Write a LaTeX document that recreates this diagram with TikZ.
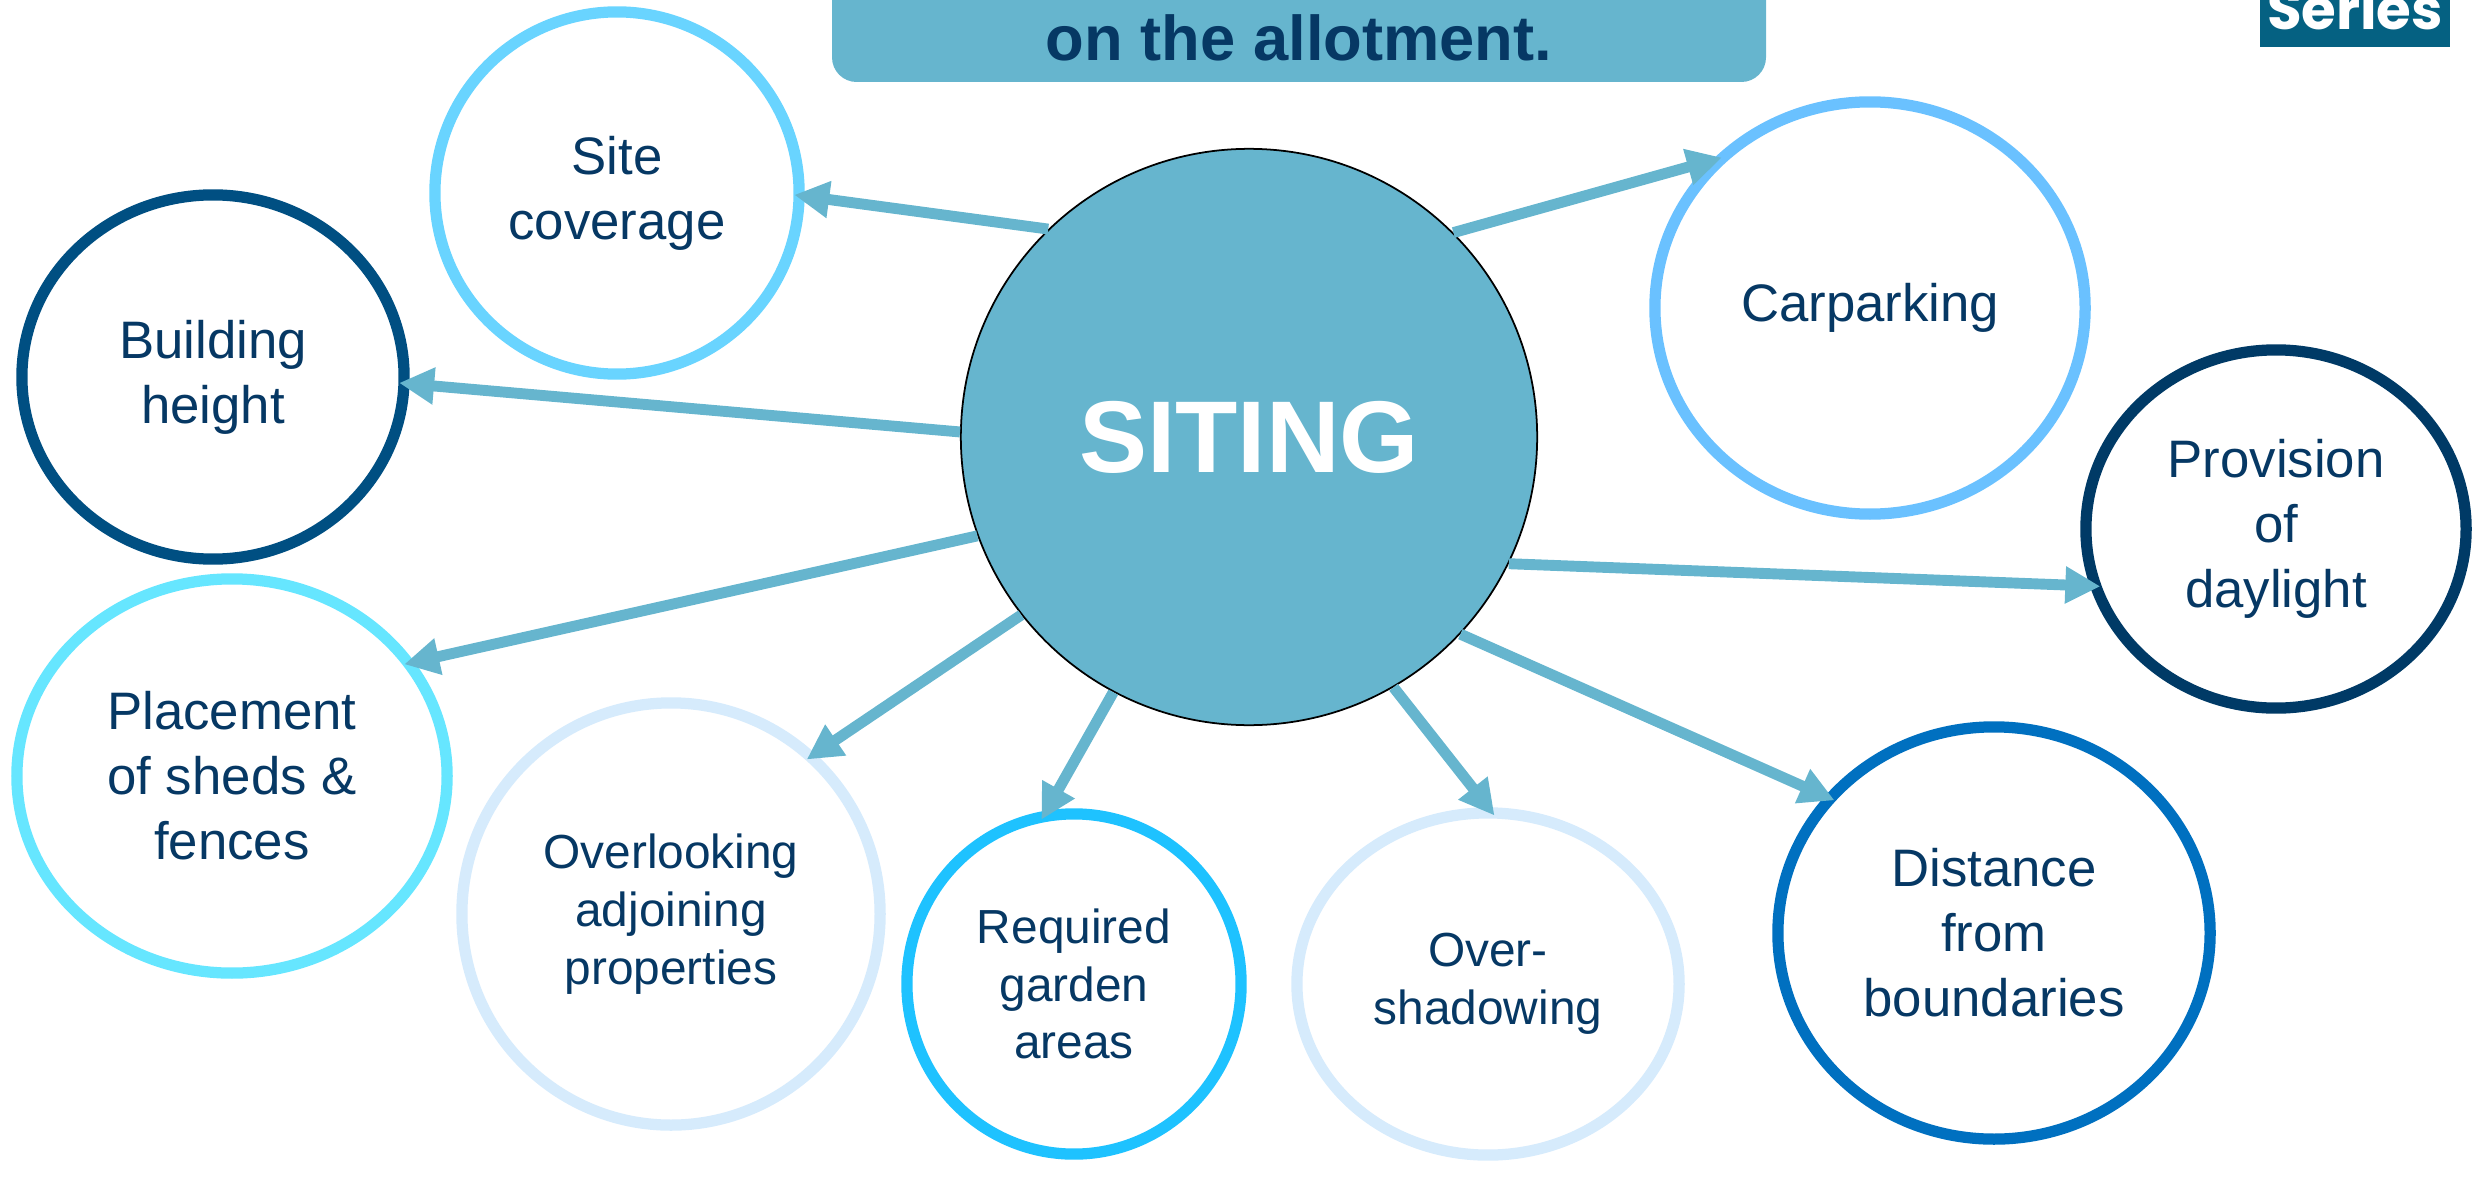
\documentclass[tikz,border=0pt]{standalone}
\usepackage{fontspec}
\setmainfont{Liberation Sans}
\newfontfamily\seriesfont{Poppins}
\usetikzlibrary{arrows.meta,shapes.geometric}
\definecolor{linkblue}{RGB}{102,181,206}
\definecolor{navytext}{RGB}{6,56,100}
\definecolor{seriesblue}{RGB}{5,97,130}
\definecolor{sitecol}{RGB}{105,212,255}
\definecolor{heightcol}{RGB}{0,79,130}
\definecolor{shedcol}{RGB}{102,230,255}
\definecolor{palecol}{RGB}{214,235,252}
\definecolor{gardencol}{RGB}{30,194,255}
\definecolor{distcol}{RGB}{0,112,192}
\definecolor{daycol}{RGB}{0,58,102}
\definecolor{carcol}{RGB}{106,193,255}
\begin{document}
\begin{tikzpicture}[x=0.01cm,y=-0.01cm,
		bubble/.style={ellipse,line width=3.2pt,fill=white,text=navytext,align=center,inner sep=0pt,font=\fontsize{15}{18.5}\selectfont},
		small/.style={font=\fontsize{13.6}{16.4}\selectfont},
		link/.style={draw=linkblue,line width=3.1pt,shorten >=-3pt,-{Triangle[length=3.5mm,width=3.5mm]}}]
	\useasboundingbox (0,0) rectangle (2476,1179);
	\clip (0,0) rectangle (2476,1179);
	\fill[linkblue,rounded corners=7pt] (832,-60) rectangle (1766,82);
	\node[anchor=base,text=navytext,font=\bfseries\fontsize{18}{20}\selectfont] (title) at (1299,61) {on the allotment.};
	\fill[seriesblue] (2260,-10) rectangle (2450,47);
	\node[anchor=base,text=white,font=\seriesfont\bfseries\fontsize{16}{18}\selectfont] (series) at (2355,30) {Series};
	\node[circle,draw=black,line width=0.5pt,fill=linkblue,minimum size=5.76cm,text=white,font=\bfseries\fontsize{29}{32}\selectfont] (siting) at (1249,437) {SITING};
	\node[bubble,draw=sitecol,minimum width=3.64cm,minimum height=3.62cm] (sitecov) at (617,193) {Site\\coverage};
	\node[bubble,draw=heightcol,minimum width=3.82cm,minimum height=3.64cm] (bheight) at (213,377) {Building\\height};
	\node[bubble,draw=shedcol,minimum width=4.30cm,minimum height=3.94cm] (sheds) at (232,776) {Placement\\of sheds \&\\fences};
	\node[bubble,small,draw=palecol,minimum width=4.18cm,minimum height=4.22cm] (overlook) at (671,914) {Overlooking\\adjoining\\properties};
	\node[bubble,small,draw=gardencol,minimum width=3.34cm,minimum height=3.40cm] (garden) at (1074,984) {Required\\garden\\areas};
	\node[bubble,small,draw=palecol,minimum width=3.82cm,minimum height=3.42cm] (shadow) at (1488,984) {Over-\\shadowing};
	\node[bubble,draw=distcol,minimum width=4.32cm,minimum height=4.12cm] (distance) at (1994,933) {Distance\\from\\boundaries};
	\node[bubble,draw=daycol,minimum width=3.80cm,minimum height=3.58cm] (daylight) at (2276,529) {Provision\\of\\daylight};
	\node[bubble,draw=carcol,minimum width=4.30cm,minimum height=4.12cm] (carpark) at (1870,308) {Carparking};
	\draw[link] (siting.134.7) -- (sitecov.-1);
	\draw[link] (siting.179.4) -- (bheight.-2);
	\draw[link] (siting.200.3) -- (sheds.32);
	\draw[link] (siting.218.7) -- (overlook.48);
	\draw[link] (siting.242.2) -- (garden.99);
	\draw[link] (siting.300.4) -- (shadow.90);
	\draw[link] (siting.317.4) -- (distance.141);
	\draw[link] (siting.334.3) -- (daylight.197);
	\draw[link] (siting.45.7) -- (carpark.137);
\end{tikzpicture}
\end{document}
